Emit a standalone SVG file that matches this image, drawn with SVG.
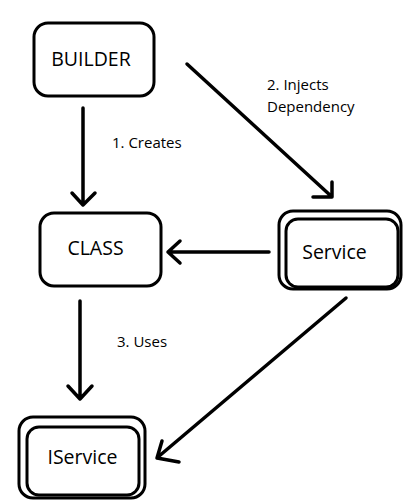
<svg xmlns="http://www.w3.org/2000/svg" width="405" height="504" viewBox="0 0 405 504">
<style>
.box{fill:#fff;stroke:#000;stroke-width:3}
.ln{fill:none;stroke:#000;stroke-width:3.5;stroke-linecap:round;stroke-linejoin:round}
.t{font-family:"Open Sans","Liberation Sans",sans-serif;font-size:19.5px;fill:#000}
.l{font-family:"Open Sans","Liberation Sans",sans-serif;font-size:15px;fill:#000}
</style>
<rect width="405" height="504" fill="#fff"/>
<g id="connectors">
<path class="ln" d="M83,108 V204 M72,193 L83,205 L95,193"/>
<path class="ln" d="M187,64 L331,196 M332,182 L332,197 L313,197"/>
<path class="ln" d="M269,252 H168 M180,241 L168,252 L180,263"/>
<path class="ln" d="M80,301 V398 M68,386 L80,399 L92,386"/>
<path class="ln" d="M346,298 L158,457 M162,441 L157,458 L179,462"/>
<text class="l" x="112" y="148">1. Creates</text>
<text class="l" x="267" y="90">2. Injects</text>
<text class="l" x="267" y="112">Dependency</text>
<text class="l" x="117" y="347">3. Uses</text>
</g>
<g id="builder">
<rect class="box" x="34" y="23" width="120" height="73" rx="14"/>
<text class="t" x="91" y="66" text-anchor="middle">BUILDER</text>
</g>
<g id="class">
<rect class="box" x="40" y="213" width="121" height="73" rx="14"/>
<text class="t" x="95.5" y="255" text-anchor="middle">CLASS</text>
</g>
<g id="service">
<rect class="box" x="279" y="211" width="122" height="78" rx="14"/>
<rect class="box" x="286" y="219" width="112" height="68" rx="12"/>
<text class="t" x="334.5" y="259" text-anchor="middle">Service</text>
</g>
<g id="iservice">
<rect class="box" x="19" y="417" width="126" height="81" rx="14"/>
<rect class="box" x="27" y="427" width="112" height="68" rx="12"/>
<text class="t" x="82.5" y="464" text-anchor="middle">IService</text>
</g>
</svg>
